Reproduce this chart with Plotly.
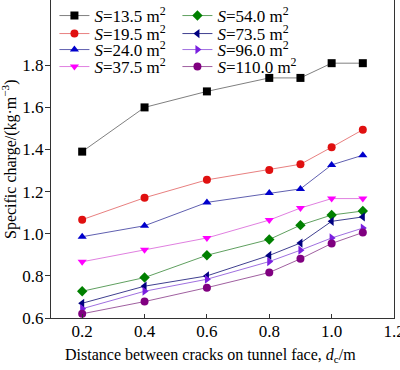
import plotly.graph_objects as go

x = [0.2, 0.4, 0.6, 0.8, 0.9, 1.0, 1.1]
labels = ["13.5", "19.5", "24.0", "37.5", "54.0", "73.5", "96.0", "110.0"]
s135 = [1.39, 1.60, 1.676, 1.74, 1.74, 1.81, 1.81]
s195 = [1.067, 1.171, 1.256, 1.303, 1.33, 1.411, 1.494]
s240 = [0.986, 1.038, 1.149, 1.194, 1.213, 1.327, 1.373]
s375 = [0.867, 0.924, 0.98, 1.065, 1.122, 1.167, 1.167]
s540 = [0.727, 0.792, 0.898, 0.973, 1.041, 1.089, 1.108]
s735 = [0.67, 0.751, 0.80, 0.897, 0.956, 1.059, 1.08]
s960 = [0.644, 0.727, 0.784, 0.868, 0.922, 0.98, 1.027]
s1100 = [0.62, 0.678, 0.744, 0.816, 0.881, 0.954, 1.006]
series = [s135, s195, s240, s375, s540, s735, s960, s1100]
colors = ["#000000", "#e01010", "#0000cc", "#ff00ff", "#008000", "#000080", "#7a1fe0", "#800080"]
line_colors = ["#808080", "#e88080", "#6060b0", "#e080e0", "#60a060", "#404090", "#a070e0", "#a060a0"]
symbols = ["square", "circle", "triangle-up", "triangle-down", "diamond", "triangle-left", "triangle-right", "circle"]

font = "Liberation Serif, Times New Roman, serif"
legend_names = ["legend", "legend2", "legend3", "legend4"]
# legend row i holds series i (left column) and i+4 (right column)
fig = go.Figure()
order = [0, 4, 1, 5, 2, 6, 3, 7]
for i in order:
    fig.add_trace(go.Scatter(
        x=x, y=series[i], mode="lines+markers",
        name=f"<i>S</i>={labels[i]} m<sup>2</sup>",
        line=dict(color=line_colors[i], width=1),
        marker=dict(color=colors[i], symbol=symbols[i], size=8),
        legend=legend_names[i % 4],
    ))

row_px = [16, 34, 50, 67]
plot_top, plot_bottom = 0, 318
plot_left, plot_right = 51, 394
plot_h = plot_bottom - plot_top
plot_w = plot_right - plot_left
leg_common = dict(bgcolor="rgba(0,0,0,0)", font=dict(family=font, size=17, color="black"),
                  orientation="h", entrywidth=78, entrywidthmode="pixels",
                  yanchor="middle", xanchor="left", x=0.01, itemwidth=30)
legends = {name: dict(y=(plot_bottom - row_px[k]) / plot_h, **leg_common)
           for k, name in enumerate(legend_names)}

fig.update_layout(
    width=400, height=370,
    margin=dict(l=plot_left, r=400 - plot_right, t=plot_top, b=370 - plot_bottom, autoexpand=False),
    plot_bgcolor="white", paper_bgcolor="white",
    font=dict(family=font, size=17, color="black"),
    **legends,
    xaxis=dict(range=[0.1, 1.2], tickvals=[0.2, 0.4, 0.6, 0.8, 1.0, 1.2],
               ticktext=["0.2", "0.4", "0.6", "0.8", "1.0", "1.2"],
               showgrid=False, zeroline=False, showline=True, linecolor="#333", linewidth=1,
               mirror=False, ticks="inside", ticklen=4, tickcolor="#333",
               ticklabelstandoff=-2,
               ticklabeloverflow="allow", automargin=False),
    yaxis=dict(range=[0.6, 2.11], tickvals=[0.6, 0.8, 1.0, 1.2, 1.4, 1.6, 1.8],
               ticktext=["0.6", "0.8", "1.0", "1.2", "1.4", "1.6", "1.8"],
               showgrid=False, zeroline=False, showline=True, linecolor="#333", linewidth=1,
               mirror=True, ticks="outside", ticklen=5, tickcolor="#333",
               ticklabelstandoff=-2,
               ticklabeloverflow="allow", automargin=False),
    annotations=[
        dict(text="Distance between cracks on tunnel face, <i>d</i><sub>c</sub>/m",
             xref="paper", yref="paper", x=(63 - plot_left) / plot_w, y=(plot_bottom - 355) / plot_h,
             xanchor="left", yanchor="middle", showarrow=False, font=dict(size=16)),
        dict(text="Specific charge/(kg·m<sup>−3</sup>)",
             xref="paper", yref="paper", x=(9 - plot_left) / plot_w, y=(plot_bottom - 159) / plot_h,
             xanchor="center", yanchor="middle", showarrow=False, textangle=-90, font=dict(size=16)),
    ],
)
fig.write_html("out.html", config={"displayModeBar": False},
               post_script="document.body.style.margin='0';")
